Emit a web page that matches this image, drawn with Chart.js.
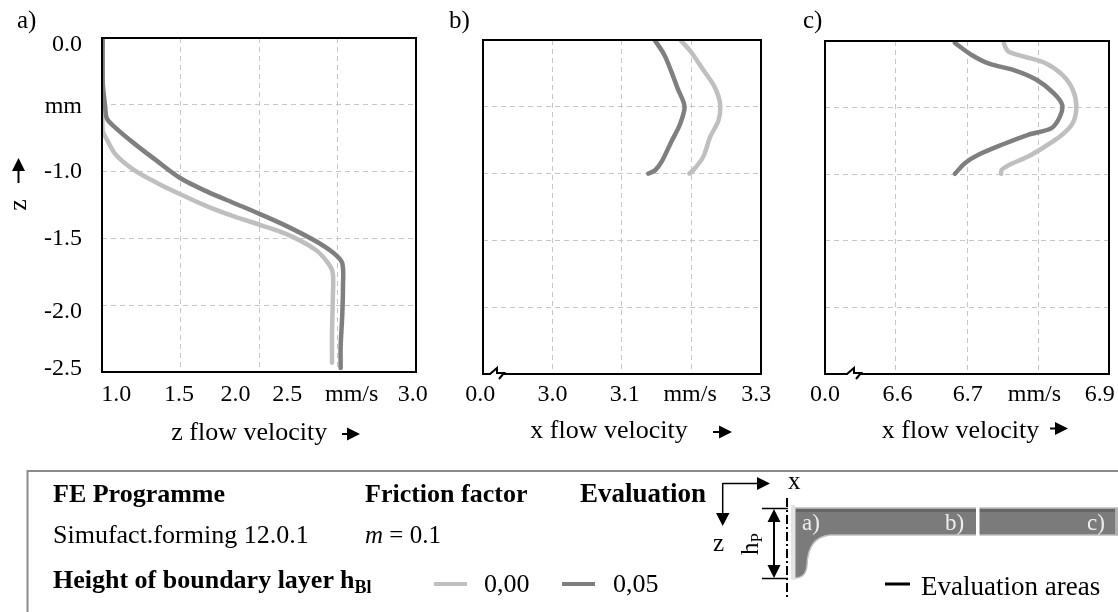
<!DOCTYPE html>
<html>
<head>
<meta charset="utf-8">
<script src="https://cdn.jsdelivr.net/npm/chart.js@4"></script>
<style>
  html, body { margin: 0; padding: 0; background: #fff; }
  body { position: relative; width: 1118px; height: 612px; overflow: hidden; }
  canvas { position: absolute; top: 0; }
  svg { position: absolute; left: 0; top: 0; }
  svg text { font-family: "Liberation Serif", serif; fill: #000; }
</style>
</head>
<body>
<canvas id="chartA" width="440" height="460" style="left:0"></canvas>
<canvas id="chartB" width="340" height="460" style="left:440px"></canvas>
<canvas id="chartC" width="338" height="460" style="left:780px"></canvas>

<svg width="1118" height="612" viewBox="0 0 1118 612">
  <text x="17" y="28" font-size="25">a)</text>
  <text x="449" y="28" font-size="25">b)</text>
  <text x="803" y="28" font-size="25">c)</text>

  <!-- axis arrows -->
  <g fill="#000" stroke="#000" stroke-width="2">
    <path d="M18.5 183V166"/><path d="M12 171L18.5 158L25 171z" stroke="none"/>
    <path d="M342 434H352"/><path d="M347 427.5L360 434L347 440.5z" stroke="none"/>
    <path d="M713 432H722"/><path d="M719 425.5L732 432L719 438.5z" stroke="none"/>
    <path d="M1050 428.5H1058"/><path d="M1055 422L1068 428.5L1055 435z" stroke="none"/>
  </g>

  <!-- legend box -->
  <path d="M27.5 612V471H1118" fill="none" stroke="#8c8c8c" stroke-width="2"/>
  <g font-size="26">
    <text x="53" y="502" font-weight="bold">FE Programme</text>
    <text x="365" y="502" font-weight="bold">Friction factor</text>
    <text x="580" y="502" font-weight="bold" font-size="27">Evaluation</text>
    <text x="53" y="543">Simufact.forming 12.0.1</text>
    <text x="365" y="543" font-size="25"><tspan font-style="italic">m</tspan> = 0.1</text>
    <text x="53" y="588" font-weight="bold">Height of boundary layer h<tspan font-size="18" dy="5">Bl</tspan></text>
    <text x="484" y="592">0,00</text>
    <text x="613" y="592">0,05</text>
    <text x="921" y="595" font-size="27">Evaluation areas</text>
  </g>
  <rect x="434" y="582" width="33" height="4" fill="#bfbfbf"/>
  <rect x="562" y="582" width="33" height="4" fill="#7f7f7f"/>
  <rect x="885" y="582.5" width="25" height="3" fill="#000"/>

  <!-- specimen sketch -->
  <path d="M795 508H1118V535H830Q808 537 807 565Q806 578 795 578z" fill="#7b7b7b" stroke="#bdbdbd" stroke-width="1.5"/>
  <rect x="796" y="509" width="322" height="3" fill="#666"/>
  <rect x="791" y="505" width="4" height="75" fill="#e4e4e4"/>
  <rect x="976" y="506" width="3.5" height="31" fill="#fff"/>
  <rect x="1115" y="508" width="3" height="27" fill="#b0b0b0"/>
  <text x="802" y="530" font-size="23" style="fill:#eee">a)</text>
  <text x="945" y="530" font-size="23" style="fill:#eee">b)</text>
  <text x="1087" y="530" font-size="23" style="fill:#eee">c)</text>
  <path d="M787 498V600" stroke="#000" stroke-width="2" stroke-dasharray="9 3 2 3" fill="none"/>
  <path d="M762 508.5H788M762 578.5H788" stroke="#000" stroke-width="1.5" fill="none"/>
  <path d="M774 520V567" stroke="#000" stroke-width="2" fill="none"/>
  <path d="M767.5 522L774 509L780.5 522zM767.5 565L774 578L780.5 565z" fill="#000"/>
  <path d="M723 483.5H760M722.7 483V516" stroke="#000" stroke-width="1.5" fill="none"/>
  <path d="M757 477L770 483.5L757 490zM716 513L722.7 526L729.5 513z" fill="#000"/>
  <text x="788" y="489" font-size="25">x</text>
  <text x="713" y="551" font-size="25">z</text>
  <text transform="translate(758 555) rotate(-90)" font-size="25">h<tspan font-size="17" dy="4">P</tspan></text>
</svg>

<script>
// panel a, z flow velocity
const aXLight = [1.004, 1.004, 1.004, 1.036, 1.085, 1.20, 1.35, 1.50, 1.67, 1.84, 2.01, 2.18, 2.36, 2.44, 2.47, 2.47, 2.465, 2.465];
const aZLight = [0, -0.46, -0.69, -0.77, -0.87, -0.985, -1.085, -1.17, -1.26, -1.335, -1.40, -1.47, -1.585, -1.685, -1.76, -1.96, -2.21, -2.43];
const aXDark = [1.004, 1.005, 1.02, 1.03, 1.065, 1.20, 1.35, 1.50, 1.67, 1.84, 2.01, 2.18, 2.36, 2.475, 2.53, 2.535, 2.53, 2.52, 2.52];
const aZDark = [0, -0.34, -0.51, -0.60, -0.65, -0.785, -0.92, -1.05, -1.15, -1.235, -1.32, -1.41, -1.52, -1.61, -1.685, -1.86, -2.08, -2.31, -2.47];

// panel b, x flow velocity
const bXLight = [3.184, 3.199, 3.217, 3.233, 3.241, 3.239, 3.227, 3.217, 3.205, 3.197];
const bZLight = [0, -0.087, -0.225, -0.349, -0.474, -0.599, -0.724, -0.873, -0.96, -1.0];
const bXDark = [3.147, 3.161, 3.171, 3.180, 3.190, 3.183, 3.171, 3.157, 3.148, 3.138];
const bZDark = [0, -0.112, -0.237, -0.362, -0.499, -0.636, -0.761, -0.911, -0.973, -1.0];

// panel c, x flow velocity
const cXLight = [6.752, 6.758, 6.779, 6.810, 6.834, 6.849, 6.854, 6.849, 6.834, 6.810, 6.786, 6.758, 6.749, 6.748];
const cZLight = [-0.02, -0.078, -0.115, -0.165, -0.253, -0.366, -0.491, -0.616, -0.704, -0.792, -0.867, -0.934, -0.967, -0.997];
const cXDark = [6.683, 6.706, 6.731, 6.767, 6.798, 6.822, 6.834, 6.831, 6.819, 6.786, 6.749, 6.716, 6.697, 6.683];
const cZDark = [-0.015, -0.103, -0.17, -0.22, -0.291, -0.391, -0.478, -0.566, -0.654, -0.704, -0.779, -0.854, -0.917, -0.997];

// tick labels, the originals are hand placed so they sit off the grid in places
const aTickLabels = ['1.0', '1.5', '2.0', '2.5', 'mm/s', '3.0'];
const aTickValues = [1.09, 1.49, 1.85, 2.18, 2.59, 2.98];
const aZTickLabels = ['0.0', 'mm', '-1.0', '-1.5', '-2.0', '-2.5'];
const aZTickValues = [-0.05, -0.514, -1.0, -1.5, -2.05, -2.477];
const bTickLabels = ['0.0', '3.0', '3.1', 'mm/s', '3.3'];
const bTickValues = [2.896, 3.0, 3.104, 3.198, 3.293];
const cTickLabels = ['0.0', '6.6', '6.7', 'mm/s', '6.9'];
const cTickValues = [6.5, 6.602, 6.701, 6.795, 6.887];

const LIGHT = '#bfbfbf';
const DARK = '#7f7f7f';
Chart.defaults.font.family = '"Liberation Serif", serif';
Chart.defaults.color = '#000';

const framePlugin = {
  id: 'frame',
  afterDatasetsDraw(chart, args, opts) {
    const { ctx, chartArea: a } = chart;
    ctx.save();
    ctx.strokeStyle = '#000';
    ctx.lineWidth = 2;
    ctx.strokeRect(a.left, a.top, a.right - a.left, a.bottom - a.top);
    if (opts.breakAt) {
      // axis break on the bottom line
      const bx = a.left + opts.breakAt;
      ctx.fillStyle = '#fff';
      ctx.fillRect(bx, a.bottom - 2, 13, 4);
      ctx.beginPath();
      ctx.moveTo(bx - 1, a.bottom);
      ctx.lineTo(bx + 6, a.bottom - 6);
      ctx.lineTo(bx + 6, a.bottom - 1);
      ctx.lineTo(bx + 13, a.bottom - 1);
      ctx.lineTo(bx + 8, a.bottom + 5);
      ctx.stroke();
    }
    ctx.restore();
  }
};

function points(xs, zs) {
  return xs.map((x, i) => ({ x: x, y: zs[i] }));
}

function line(xs, zs, color) {
  return {
    data: points(xs, zs),
    showLine: true,
    borderColor: color,
    borderWidth: 4.5,
    borderCapStyle: 'round',
    borderJoinStyle: 'round',
    pointRadius: 0,
    tension: 0.3
  };
}

const gridStyle = { color: '#c6c6c6', lineWidth: 1, drawTicks: false, tickLength: 0 };

function makePanel(id, cfg) {
  const scales = {
    x: {
      type: 'linear', min: cfg.xMin, max: cfg.xMax,
      ticks: { display: false, stepSize: cfg.xStep },
      grid: gridStyle,
      border: { display: false, dash: [5, 4] },
      afterFit(s) { s.height = 0; }
    },
    y: {
      type: 'linear', min: -2.5, max: 0,
      ticks: { display: false, stepSize: 0.5 },
      grid: gridStyle,
      border: { display: false, dash: [5, 4] },
      afterFit(s) { s.width = 0; }
    },
    xLabels: {
      type: 'linear', position: 'bottom', min: cfg.xMin, max: cfg.xMax,
      afterBuildTicks(s) { s.ticks = cfg.tickValues.map(v => ({ value: v })); },
      ticks: {
        font: { size: cfg.tickSize }, padding: cfg.tickPad, autoSkip: false, maxRotation: 0, minRotation: 0,
        callback: (v, i) => cfg.tickLabels[i]
      },
      grid: { display: false, drawTicks: false },
      border: { display: false },
      title: { display: true, text: cfg.title, font: { size: cfg.titleSize }, padding: { top: 0, bottom: cfg.titlePad } },
      afterFit(s) {
        s.height = cfg.axisHeight;
        // labels may hang over the plot edges, the plot area must not shrink for them
        s.paddingLeft = 0;
        s.paddingRight = 0;
      }
    }
  };
  if (cfg.zTickLabels) {
    scales.yLabels = {
      type: 'linear', position: 'left', min: -2.5, max: 0,
      afterBuildTicks(s) { s.ticks = cfg.zTickValues.map(v => ({ value: v })); },
      ticks: {
        font: { size: cfg.tickSize }, padding: 20, autoSkip: false,
        callback: (v, i) => cfg.zTickLabels[i]
      },
      grid: { display: false, drawTicks: false },
      border: { display: false },
      title: { display: true, text: 'z', font: { size: cfg.titleSize }, padding: { top: 4, bottom: 0 } },
      afterFit(s) {
        s.width = cfg.padLeft;
        s.paddingTop = 0;
        s.paddingBottom = 0;
      }
    };
  }
  return new Chart(document.getElementById(id), {
    type: 'scatter',
    data: { datasets: [line(cfg.xDark, cfg.zDark, DARK), line(cfg.xLight, cfg.zLight, LIGHT)] },
    options: {
      responsive: false,
      animation: false,
      layout: {
        padding: {
          left: cfg.zTickLabels ? 0 : cfg.padLeft,
          right: cfg.padRight, top: cfg.padTop, bottom: 0
        }
      },
      plugins: {
        legend: { display: false },
        tooltip: { enabled: false },
        frame: { breakAt: cfg.breakAt }
      },
      scales: scales
    },
    plugins: [framePlugin]
  });
}

makePanel('chartA', {
  xLight: aXLight, zLight: aZLight, xDark: aXDark, zDark: aZDark,
  xMin: 1, xMax: 3, xStep: 0.5,
  tickLabels: aTickLabels, tickValues: aTickValues,
  zTickLabels: aZTickLabels, zTickValues: aZTickValues,
  title: 'z flow velocity\u00a0\u00a0\u00a0', tickSize: 24, titleSize: 26, tickPad: 8, titlePad: 11,
  padLeft: 102, padRight: 24, padTop: 38, axisHeight: 88
});
makePanel('chartB', {
  xLight: bXLight, zLight: bZLight, xDark: bXDark, zDark: bZDark,
  xMin: 2.9, xMax: 3.3, xStep: 0.1,
  tickLabels: bTickLabels, tickValues: bTickValues,
  title: 'x flow velocity\u00a0\u00a0\u00a0\u00a0', tickSize: 24, titleSize: 26, tickPad: 6, titlePad: 13,
  padLeft: 43, padRight: 19, padTop: 40, axisHeight: 86, breakAt: 8
});
makePanel('chartC', {
  xLight: cXLight, zLight: cZLight, xDark: cXDark, zDark: cZDark,
  xMin: 6.5, xMax: 6.9, xStep: 0.1,
  tickLabels: cTickLabels, tickValues: cTickValues,
  title: 'x flow velocity\u00a0\u00a0', tickSize: 24, titleSize: 26, tickPad: 6, titlePad: 13,
  padLeft: 45, padRight: 9, padTop: 41, axisHeight: 86, breakAt: 23
});
</script>
</body>
</html>
